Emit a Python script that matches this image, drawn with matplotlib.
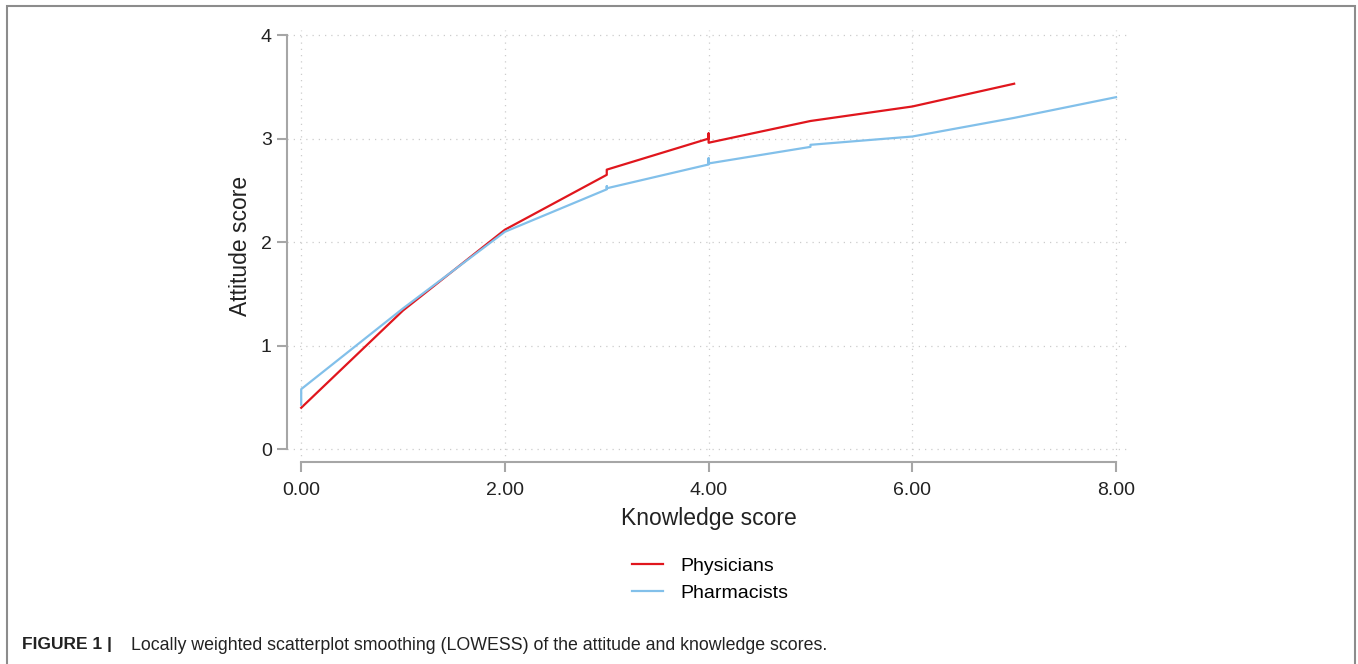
import matplotlib.pyplot as plt
import matplotlib.patches as patches

plt.rcParams['font.family'] = ['Liberation Sans', 'DejaVu Sans']

# LOWESS curves (ties at the same knowledge score give small vertical steps)
phys_x = [0, 0, 1, 2, 3, 3, 4, 4, 4, 5, 6, 7]
phys_y = [0.40, 0.40, 1.34, 2.12, 2.65, 2.70, 3.00, 3.05, 2.96, 3.17, 3.31, 3.53]
pharm_x = [0, 0, 1, 2, 3, 3, 3, 4, 4, 4, 5, 5, 6, 7, 8]
pharm_y = [0.43, 0.58, 1.36, 2.10, 2.51, 2.54, 2.52, 2.75, 2.81, 2.76, 2.92, 2.94, 3.02, 3.20, 3.40]

x_ticks = [0, 2, 4, 6, 8]
x_labels = ['0.00', '2.00', '4.00', '6.00', '8.00']
y_ticks = [0, 1, 2, 3, 4]

red = '#e0161d'
blue = '#82c0ea'
grey = '#a6a6a6'

fig = plt.figure(figsize=(13.58, 6.64), dpi=100)
ax = fig.add_axes([0.2113, 0.304, 0.621, 0.651])

ax.plot(phys_x, phys_y, color=red, lw=1.6, label='Physicians')
ax.plot(pharm_x, pharm_y, color=blue, lw=1.6, label='Pharmacists')

ax.set_xlim(-0.14, 8.14)
ax.set_ylim(-0.125, 4.05)
ax.set_xticks(x_ticks)
ax.set_xticklabels(x_labels)
ax.set_yticks(y_ticks)

ax.grid(True, color='#cccccc', linestyle=(0, (1, 4)), lw=0.9)
for s in ['top', 'right']:
    ax.spines[s].set_visible(False)
for s in ['left', 'bottom']:
    ax.spines[s].set_color(grey)
    ax.spines[s].set_linewidth(1.5)
ax.spines['left'].set_bounds(0, 4)
ax.spines['bottom'].set_bounds(0, 8)
ax.tick_params(axis='both', colors=grey, labelcolor='#222222', labelsize=14,
               width=1.5, length=7)
ax.tick_params(axis='x', pad=7)
ax.tick_params(axis='y', pad=4)

ax.set_xlabel('Knowledge score', fontsize=16.5, labelpad=6, color='#222222')
ax.set_ylabel('Attitude score', fontsize=16.5, labelpad=6, color='#222222')

fig.legend(loc='center', bbox_to_anchor=(0.523, 0.127), frameon=False,
           fontsize=14, handlelength=1.6, handletextpad=0.9, labelspacing=0.5)

# figure frame
fig.patches.append(patches.Rectangle((7 / 1358, -0.1), 1348 / 1358, 1.1 - 6 / 664,
                                     transform=fig.transFigure, fill=False,
                                     edgecolor='#8c8c8c', lw=1.5))

fig.text(22 / 1358, 19 / 664, 'FIGURE 1 |', fontsize=12.5, fontweight='bold',
         va='center', color='#222222')
fig.text(131 / 1358, 19 / 664,
         'Locally weighted scatterplot smoothing (LOWESS) of the attitude and knowledge scores.',
         fontsize=12.8, va='center', color='#222222')

fig.savefig('out.png', dpi=100)
